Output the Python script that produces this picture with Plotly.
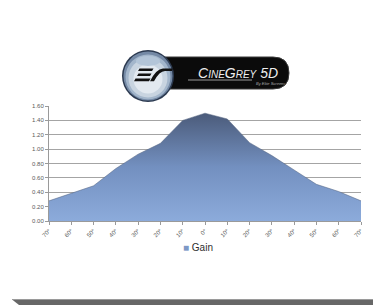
import plotly.graph_objects as go

# ---- data ----
angles = [-70, -60, -50, -40, -30, -20, -10, 0, 10, 20, 30, 40, 50, 60, 70]
angle_labels = ["70°", "60°", "50°", "40°", "30°", "20°", "10°", "0°",
                "10°", "20°", "30°", "40°", "50°", "60°", "70°"]
gain = [0.28, 0.39, 0.49, 0.73, 0.93, 1.08, 1.40, 1.50, 1.42, 1.09, 0.91, 0.71, 0.51, 0.41, 0.28]
y_ticks = [0, 0.2, 0.4, 0.6, 0.8, 1.0, 1.2, 1.4, 1.6]
series_name = "Gain"

# page body has an 8px margin; lay the figure out in window coordinates
OFF = 8
W, H = 381 - OFF, 305 - OFF


def px(x):
    return (x - OFF) / W


def py(y):
    return 1 - (y - OFF) / H


fig = go.Figure()
fig.add_trace(go.Scatter(
    x=angles, y=gain, mode="lines", fill="tozeroy",
    line=dict(color="#52627f", width=0.5),
    fillgradient=dict(type="vertical",
                      colorscale=[[0, "#8cabdb"], [0.5, "#7390c0"], [1, "#4b5b7a"]]),
    name=series_name, showlegend=False, hoverinfo="skip",
))

shapes = []
# bottom dark bar
shapes.append(dict(type="path", xref="paper", yref="paper",
                   path=f"M {px(12)} {py(299.5)} L {px(381)} {py(299.5)} L {px(381)} {py(305)} L {px(19)} {py(305)} Z",
                   fillcolor="#676767", line=dict(width=0), layer="above"))
shapes.append(dict(type="line", xref="paper", yref="paper",
                   x0=px(12), x1=px(381), y0=py(299.5), y1=py(299.5),
                   line=dict(color="#9a9a9a", width=1)))

# logo pill (black) with rounded right end
x0p, x1p, y0p, y1p, r = 160, 289, 57, 89, 16
pill = (f"M {px(x0p)} {py(y0p)} L {px(x1p - r)} {py(y0p)} "
        f"Q {px(x1p)} {py(y0p)} {px(x1p)} {py(y0p + r)} "
        f"Q {px(x1p)} {py(y1p)} {px(x1p - r)} {py(y1p)} "
        f"L {px(x0p)} {py(y1p)} Z")
shapes.append(dict(type="path", xref="paper", yref="paper", path=pill,
                   fillcolor="#0b0b0b", line=dict(color="#3a3a3a", width=1)))
# underline in pill
shapes.append(dict(type="line", xref="paper", yref="paper",
                   x0=px(188), x1=px(252), y0=py(80), y1=py(80),
                   line=dict(color="#bfbfbf", width=0.8)))

# sphere
cx, cy = 148, 76
def circ(rad, color, dx=0, dy=0, ry=None):
    ry = rad if ry is None else ry
    return dict(type="circle", xref="paper", yref="paper",
                x0=px(cx + dx - rad), x1=px(cx + dx + rad),
                y0=py(cy + dy + ry), y1=py(cy + dy - ry),
                fillcolor=color, line=dict(color=color, width=0))
shapes.append(circ(26, "#2c3a50"))
shapes.append(circ(24.5, "#7489a5"))
shapes.append(circ(22.5, "#a3b6cb", dy=1))
shapes.append(circ(19.5, "#c8d4e0", dy=2))
shapes.append(circ(14.5, "#e2e9f0", dy=3))
shapes.append(circ(12, "#b3c5d8", dy=-15, ry=5))

# "ES" mark: three slanted bars + swoosh
def para(xa, xb, y, h, s):
    return dict(type="path", xref="paper", yref="paper",
                path=(f"M {px(xa + s)} {py(y)} L {px(xb + s)} {py(y)} "
                      f"L {px(xb)} {py(y + h)} L {px(xa)} {py(y + h)} Z"),
                fillcolor="#111111", line=dict(width=0))
shapes.append(para(138, 152, 68.5, 2.6, 1.5))
shapes.append(para(137, 150, 73.5, 2.6, 1.5))
shapes.append(para(134, 149, 78.5, 2.8, 1.5))
shapes.append(dict(type="path", xref="paper", yref="paper",
                   path=(f"M {px(150)} {py(81.3)} L {px(154)} {py(81.3)} "
                         f"Q {px(160)} {py(70)} {px(166)} {py(71.1)} L {px(172)} {py(71.1)} "
                         f"L {px(173)} {py(68.5)} L {px(163)} {py(68.5)} "
                         f"Q {px(156)} {py(69)} {px(150)} {py(81.3)} Z"),
                   fillcolor="#111111", line=dict(width=0)))

annotations = [
    dict(xref="paper", yref="paper", x=px(238), y=py(73), xanchor="center", yanchor="middle",
         text="<i>C<span style='font-size:10px'>INE</span>G<span style='font-size:10px'>REY</span> 5D</i>",
         showarrow=False, font=dict(family="Liberation Sans, Arial", size=14, color="#eeeeee")),
    dict(xref="paper", yref="paper", x=px(287), y=py(84), xanchor="right", yanchor="middle",
         text="<i>By Elite Screens</i>", showarrow=False,
         font=dict(family="Liberation Sans, Arial", size=4, color="#aaaaaa")),
    dict(xref="paper", yref="paper", x=px(181), y=py(247), xanchor="left", yanchor="middle",
         text="<span style='color:#7d98c6'>■</span> " + series_name, showarrow=False,
         font=dict(family="Liberation Sans, Arial", size=10, color="#2e2e2e")),
]

fig.update_layout(
    width=W, height=H, autosize=False,
    margin=dict(l=0, r=0, t=0, b=0),
    paper_bgcolor="white", plot_bgcolor="white",
    showlegend=False,
    shapes=shapes, annotations=annotations,
    xaxis=dict(domain=[px(49), px(361)], range=[-70, 70], tickmode="array",
               tickvals=angles, ticktext=angle_labels, tickangle=-45,
               tickfont=dict(family="Liberation Sans, Arial", size=6, color="#5a5a5a"),
               showgrid=False, zeroline=False, showline=True, linecolor="#9a9a9a", linewidth=1,
               ticks="outside", ticklen=3, tickcolor="#9a9a9a", automargin=False),
    yaxis=dict(domain=[py(221), py(106)], range=[0, 1.6], tickmode="array",
               tickvals=y_ticks, tickformat=".2f",
               tickfont=dict(family="Liberation Sans, Arial", size=6, color="#5a5a5a"),
               showgrid=True, gridcolor="#a4a4a4", gridwidth=1.2, zeroline=False,
               showline=True, linecolor="#9a9a9a", linewidth=1,
               ticks="outside", ticklen=3, tickcolor="#9a9a9a", automargin=False),
)

fig.write_html("out.html")
